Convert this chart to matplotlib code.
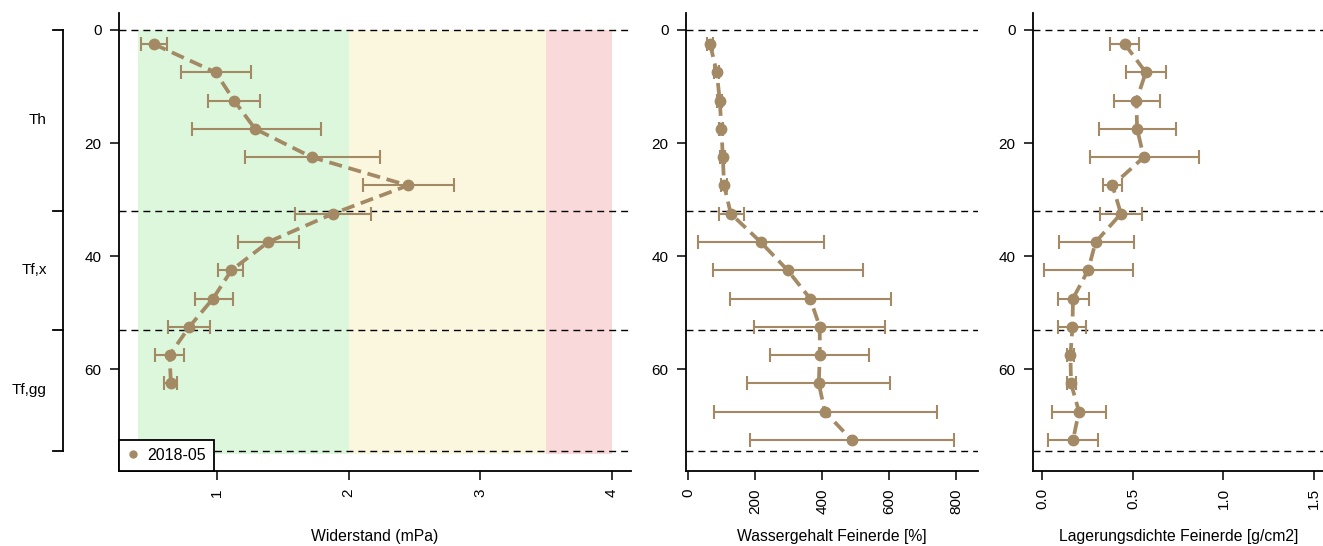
import numpy as np
import matplotlib.pyplot as plt
import matplotlib.transforms as mtransforms
from matplotlib.lines import Line2D

plt.rcParams['font.family'] = ['Liberation Sans', 'DejaVu Sans']

# depth (cm)
depth = [2.5, 7.5, 12.5, 17.5, 22.5, 27.5, 32.5, 37.5, 42.5, 47.5, 52.5, 57.5, 62.5, 67.5, 72.5]

# Widerstand (mPa), 13 depths
wid = [0.52, 0.99, 1.13, 1.29, 1.72, 2.45, 1.88, 1.39, 1.11, 0.97, 0.79, 0.64, 0.65]
wid_lo = [0.42, 0.73, 0.93, 0.81, 1.21, 2.11, 1.59, 1.16, 1.01, 0.83, 0.63, 0.53, 0.60]
wid_hi = [0.62, 1.26, 1.33, 1.79, 2.24, 2.80, 2.17, 1.62, 1.20, 1.12, 0.95, 0.75, 0.70]

# Wassergehalt Feinerde [%]
was = [65, 85, 94, 99, 103, 107, 127, 216, 297, 364, 393, 393, 390, 408, 488]
was_lo = [57, 78, 86, 93, 95, 97, 91, 28, 73, 124, 195, 245, 176, 76, 185]
was_hi = [75, 92, 102, 105, 111, 117, 167, 407, 522, 606, 589, 539, 602, 742, 794]

# Lagerungsdichte Feinerde [g/cm2]
lag = [0.455, 0.571, 0.519, 0.523, 0.560, 0.387, 0.434, 0.294, 0.252, 0.169, 0.166, 0.155, 0.158, 0.202, 0.169]
lag_lo = [0.372, 0.460, 0.394, 0.313, 0.263, 0.335, 0.320, 0.092, 0.007, 0.088, 0.088, 0.136, 0.138, 0.055, 0.031]
lag_hi = [0.534, 0.681, 0.650, 0.736, 0.867, 0.442, 0.550, 0.504, 0.500, 0.256, 0.243, 0.177, 0.184, 0.353, 0.307]

# horizons
hor_bounds = [0, 32, 53, 74.5]
hor_names = ['Th', 'Tf,x', 'Tf,gg']

# resistance classes
bands = [(0.4, 2.0, '#dcf7dc'), (2.0, 3.5, '#fbf6de'), (3.5, 4.0, '#f9d9d9')]

col = '#a38a65'

fig = plt.figure(figsize=(13.23, 5.46), dpi=100)
W, H = 1323, 546
bot, top = 471, 13
def add_ax(left, right):
    return fig.add_axes([left / W, (H - bot) / H, (right - left) / W, (bot - top) / H])

ax1 = add_ax(119, 631)
ax2 = add_ax(686, 978)
ax3 = add_ax(1033, 1325)


def style(ax, xlim, xticks, xticklabels, xlabel):
    ax.set_xlim(*xlim)
    ax.set_ylim(78, -3)
    for s in ['top', 'right']:
        ax.spines[s].set_visible(False)
    for s in ['left', 'bottom']:
        ax.spines[s].set_linewidth(1.3)
    ax.set_xticks(xticks)
    ax.set_xticklabels(xticklabels, rotation=90)
    ax.set_yticks([0, 20, 40, 60])
    ax.tick_params(axis='both', direction='out', length=6.5, width=1.1, labelsize=11, pad=6)
    ax.set_xlabel(xlabel, fontsize=11.3)
    ax.xaxis.set_label_coords(0.5, (bot - 536) / (bot - top))
    ax.xaxis.label.set_va('center')
    for b in hor_bounds:
        ax.axhline(b, color='black', lw=1.0, ls=(0, (5, 3.6)), zorder=2)


def series(ax, x, lo, hi, d):
    x = np.array(x)
    err = [x - np.array(lo), np.array(hi) - x]
    ax.errorbar(x, d, xerr=err, fmt='none', ecolor=col, elinewidth=1.5,
                capsize=5, capthick=1.5, zorder=3)
    ax.plot(x, d, color=col, lw=2.7, ls=(0, (3.5, 1.8)), marker='o', ms=7.5,
            zorder=4)


for lo, hi, c in bands:
    ax1.fill_betweenx([0, 75], lo, hi, color=c, lw=0, zorder=0)

style(ax1, (0.256, 4.144), [1, 2, 3, 4], ['1', '2', '3', '4'], 'Widerstand (mPa)')
style(ax2, (-7, 866), [0, 200, 400, 600, 800], ['0', '200', '400', '600', '800'], 'Wassergehalt Feinerde [%]')
style(ax3, (-0.052, 1.561), [0, 0.5, 1.0, 1.5], ['0.0', '0.5', '1.0', '1.5'], 'Lagerungsdichte Feinerde [g/cm2]')

series(ax1, wid, wid_lo, wid_hi, depth[:len(wid)])
series(ax2, was, was_lo, was_hi, depth)
series(ax3, lag, lag_lo, lag_hi, depth)

# legend
h = Line2D([], [], color=col, marker='o', ls='none', ms=5)
leg = ax1.legend([h], ['2018-05'], loc='lower left', bbox_to_anchor=(0, 0), borderaxespad=0,
                 fancybox=False, edgecolor='black', framealpha=1, fontsize=11.5,
                 handlelength=0.8, handletextpad=0.5, borderpad=0.5)
leg.get_frame().set_linewidth(1.3)
leg.set_zorder(10)

# horizon bracket
tr = mtransforms.blended_transform_factory(ax1.transAxes, ax1.transData)
xb, xt, xl = -0.109, -0.129, -0.141
ax1.plot([xb, xb], [hor_bounds[0], hor_bounds[-1]], color='black', lw=1.3, transform=tr, clip_on=False)
for b in hor_bounds:
    ax1.plot([xt, xb], [b, b], color='black', lw=1.3, transform=tr, clip_on=False)
for i, name in enumerate(hor_names):
    mid = (hor_bounds[i] + hor_bounds[i + 1]) / 2
    ax1.text(xl, mid, name, transform=tr, ha='right', va='center', fontsize=11)

fig.savefig('out.png', dpi=100)
